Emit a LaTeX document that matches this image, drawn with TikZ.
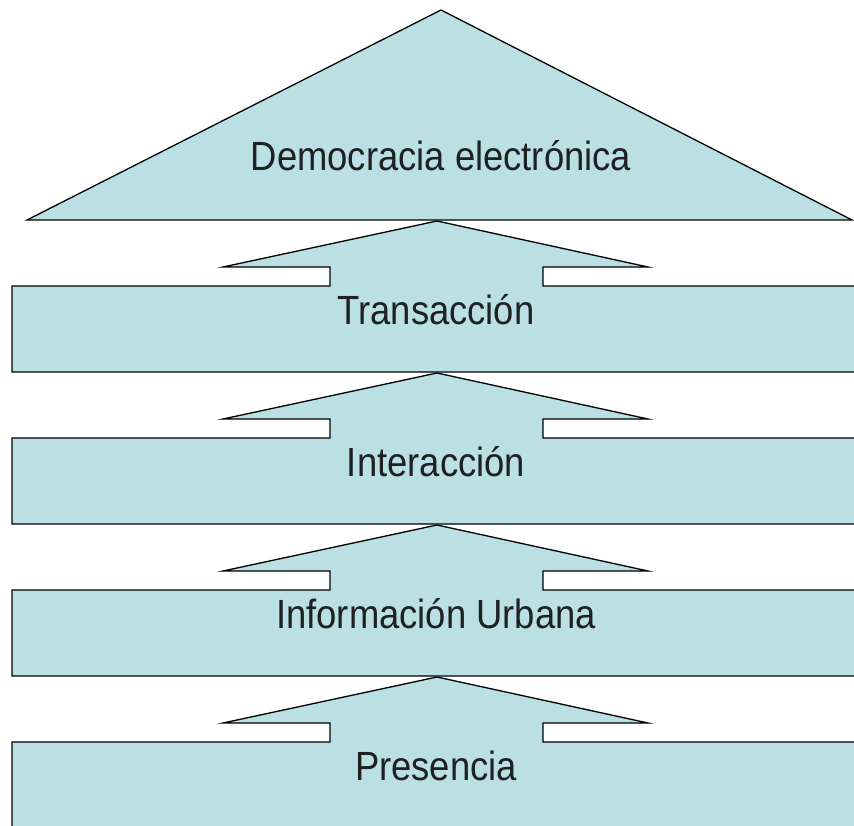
\documentclass[tikz,border=0pt]{standalone}
\usepackage{fontspec}
\setmainfont{Liberation Sans}
\definecolor{fillblue}{RGB}{186,224,228}
\definecolor{txtgray}{RGB}{30,32,34}
\newcommand{\tallt}[1]{\scalebox{1}[1.12]{#1}}
\begin{document}
\begin{tikzpicture}[x=1pt,y=-1pt,
  shapebox/.style={fill=fillblue,draw=black,line width=1.3pt,line join=miter},
  lbl/.style={anchor=base,inner sep=0pt,font=\fontsize{36.4}{40}\selectfont,text=txtgray}]
\useasboundingbox (0,0) rectangle (854,826);
\clip (0,0) rectangle (854,826);
% top triangle
\draw[shapebox] (27,220) -- (441,10) -- (852,220) -- cycle;
\node[lbl] (dem) at (441,171) {\tallt{Democracia electrónica}};
% arrow levels
\foreach \t/\name/\txt in {286/tra/Transacción,438/int/Interacción,590/inf/Información Urbana,742/pre/Presencia}{
  \draw[shapebox] (12,\t+86) -- (12,\t) -- (330,\t) -- (330,\t-19) -- (223,\t-19) -- (437,\t-65) -- (648,\t-19) -- (543,\t-19) -- (543,\t) -- (870,\t) -- (870,\t+86) -- cycle;
  \node[lbl] (\name) at (436,\t+38) {\tallt{\txt}};
}
\end{tikzpicture}
\end{document}
